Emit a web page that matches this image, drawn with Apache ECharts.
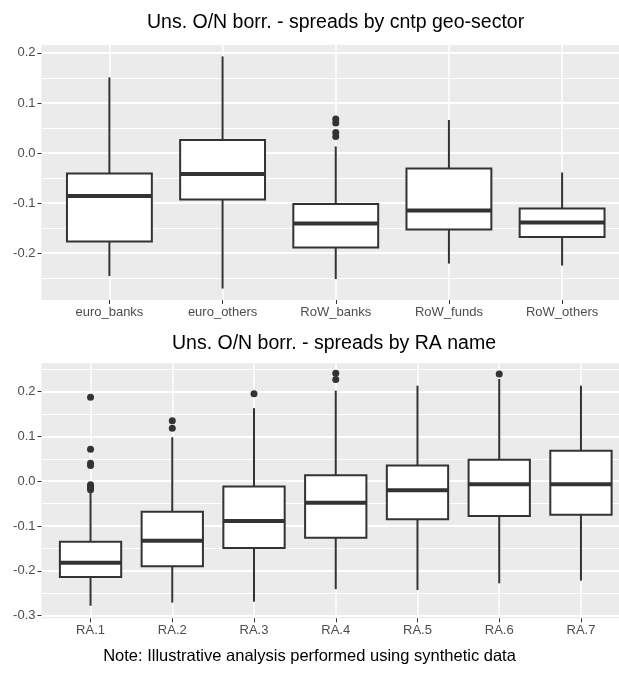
<!DOCTYPE html>
<html>
<head>
<meta charset="utf-8">
<script src="https://cdn.jsdelivr.net/npm/echarts@6/dist/echarts.min.js"></script>
<style>
  html, body { margin: 0; padding: 0; background: #fff; }
  #chart { width: 619px; height: 675px; }
</style>
</head>
<body>
<div id="chart"></div>
<script>
// top panel: spreads by counterparty geo-sector
const geoCats = ['euro_banks', 'euro_others', 'RoW_banks', 'RoW_funds', 'RoW_others'];
const geoLow = [-0.246, -0.271, -0.252, -0.221, -0.225];
const geoQ1 = [-0.177, -0.093, -0.189, -0.153, -0.168];
const geoMed = [-0.086, -0.042, -0.141, -0.115, -0.139];
const geoQ3 = [-0.041, 0.026, -0.102, -0.031, -0.111];
const geoHigh = [0.151, 0.193, 0.013, 0.066, -0.039];
const geoOutliers = [[2, 0.068], [2, 0.060], [2, 0.041], [2, 0.033]];

// bottom panel: spreads by RA name
const raCats = ['RA.1', 'RA.2', 'RA.3', 'RA.4', 'RA.5', 'RA.6', 'RA.7'];
const raLow = [-0.278, -0.271, -0.269, -0.241, -0.243, -0.228, -0.222];
const raQ1 = [-0.214, -0.190, -0.149, -0.126, -0.085, -0.078, -0.075];
const raMed = [-0.182, -0.133, -0.089, -0.048, -0.020, -0.007, -0.007];
const raQ3 = [-0.135, -0.068, -0.012, 0.013, 0.035, 0.048, 0.068];
const raHigh = [-0.024, 0.098, 0.163, 0.202, 0.213, 0.228, 0.213];
const raOutliers = [
  [0, 0.187], [0, 0.071], [0, 0.040], [0, 0.035], [0, -0.008], [0, -0.012], [0, -0.016], [0, -0.019],
  [1, 0.135], [1, 0.118],
  [2, 0.195],
  [3, 0.241], [3, 0.227],
  [5, 0.239]
];

const geoTicks = [-0.2, -0.1, 0, 0.1, 0.2];
const geoMinor = [-0.25, -0.15, -0.05, 0.05, 0.15];
const raTicks = [-0.3, -0.2, -0.1, 0, 0.1, 0.2];
const raMinor = [-0.25, -0.15, -0.05, 0.05, 0.15, 0.25];

const INK = '#333333';
const LABEL = '#4D4D4D';
const PANEL = '#EBEBEB';
const FONT = '"Liberation Sans", Arial, sans-serif';
const BOX_WIDTH = 0.75;

const boxData = (lo, q1, med, q3, hi) => lo.map((v, i) => [i, v, q1[i], med[i], q3[i], hi[i]]);

function renderBox(params, api) {
  const x = api.value(0);
  const pLo = api.coord([x, api.value(1)]);
  const pQ1 = api.coord([x, api.value(2)]);
  const pMed = api.coord([x, api.value(3)]);
  const pQ3 = api.coord([x, api.value(4)]);
  const pHi = api.coord([x, api.value(5)]);
  const half = api.size([BOX_WIDTH, 0])[0] / 2;
  const line = { stroke: INK, lineWidth: 2 };
  return {
    type: 'group',
    children: [
      { type: 'line', shape: { x1: pLo[0], y1: pLo[1], x2: pQ1[0], y2: pQ1[1] }, style: line },
      { type: 'line', shape: { x1: pQ3[0], y1: pQ3[1], x2: pHi[0], y2: pHi[1] }, style: line },
      {
        type: 'rect',
        shape: { x: pQ3[0] - half, y: pQ3[1], width: half * 2, height: pQ1[1] - pQ3[1] },
        style: { fill: '#FFFFFF', stroke: INK, lineWidth: 2 }
      },
      { type: 'line', shape: { x1: pMed[0] - half, y1: pMed[1], x2: pMed[0] + half, y2: pMed[1] }, style: { stroke: INK, lineWidth: 4 } }
    ]
  };
}

const catAxis = (gridIndex, cats) => ({
  type: 'value',
  gridIndex,
  position: 'bottom',
  min: -0.6,
  max: cats.length - 0.4,
  axisLine: { show: false, onZero: false },
  axisTick: { show: true, length: 4, customValues: cats.map((c, i) => i), lineStyle: { color: INK, width: 1 } },
  axisLabel: {
    customValues: cats.map((c, i) => i),
    formatter: v => cats[Math.round(v)] || '',
    color: LABEL, fontFamily: FONT, fontSize: 13, margin: 6
  },
  splitLine: { show: true, lineStyle: { color: '#FFFFFF', width: 1.5 } }
});

const majorAxis = (gridIndex, min, max, ticks) => ({
  type: 'value',
  gridIndex,
  position: 'left',
  min, max,
  axisLine: { show: false, onZero: false },
  axisTick: { show: true, length: 4, customValues: ticks, lineStyle: { color: INK, width: 1 } },
  axisLabel: {
    customValues: ticks,
    formatter: v => v.toFixed(1),
    color: LABEL, fontFamily: FONT, fontSize: 13, margin: 6
  },
  splitLine: { show: true, lineStyle: { color: '#FFFFFF', width: 2 } }
});

const minorAxis = (gridIndex, min, max, ticks) => ({
  type: 'value',
  gridIndex,
  position: 'left',
  min, max,
  axisLine: { show: false, onZero: false },
  axisTick: { show: false, customValues: ticks },
  axisLabel: { show: false },
  splitLine: { show: true, lineStyle: { color: '#FFFFFF', width: 1 } }
});

const chart = echarts.init(document.getElementById('chart'));

chart.setOption({
  backgroundColor: '#FFFFFF',
  animation: false,
  title: [
    { text: 'Uns. O/N borr. - spreads by cntp geo-sector', left: 147, top: 13, padding: 0,
      textStyle: { color: '#000', fontFamily: FONT, fontSize: 19.5, fontWeight: 'normal' } },
    { text: 'Uns. O/N borr. - spreads by RA name', left: 172, top: 334, padding: 0,
      textStyle: { color: '#000', fontFamily: FONT, fontSize: 19.5, fontWeight: 'normal' } },
    { text: 'Note: Illustrative analysis performed using synthetic data', left: 'center', top: 648, padding: 0,
      textStyle: { color: '#000', fontFamily: FONT, fontSize: 16.5, fontWeight: 'normal' } }
  ],
  grid: [
    { left: 41.5, top: 45, width: 588.5, height: 255, show: true, backgroundColor: PANEL, borderWidth: 0, outerBoundsMode: 'none' },
    { left: 41.5, top: 363.3, width: 588.5, height: 255, show: true, backgroundColor: PANEL, borderWidth: 0, outerBoundsMode: 'none' }
  ],
  xAxis: [catAxis(0, geoCats), catAxis(1, raCats)],
  yAxis: [
    majorAxis(0, -0.2938, 0.2158, geoTicks),
    minorAxis(0, -0.2938, 0.2158, geoMinor),
    majorAxis(1, -0.306, 0.263, raTicks),
    minorAxis(1, -0.306, 0.263, raMinor)
  ],
  series: [
    {
      type: 'custom', xAxisIndex: 0, yAxisIndex: 0,
      renderItem: renderBox,
      encode: { x: 0, y: [1, 2, 3, 4, 5] },
      data: boxData(geoLow, geoQ1, geoMed, geoQ3, geoHigh),
      z: 3
    },
    {
      type: 'scatter', xAxisIndex: 0, yAxisIndex: 0,
      symbolSize: 7, itemStyle: { color: INK, opacity: 1 },
      data: geoOutliers, z: 4
    },
    {
      type: 'custom', xAxisIndex: 1, yAxisIndex: 2,
      renderItem: renderBox,
      encode: { x: 0, y: [1, 2, 3, 4, 5] },
      data: boxData(raLow, raQ1, raMed, raQ3, raHigh),
      z: 3
    },
    {
      type: 'scatter', xAxisIndex: 1, yAxisIndex: 2,
      symbolSize: 7, itemStyle: { color: INK, opacity: 1 },
      data: raOutliers, z: 4
    }
  ]
});
</script>
</body>
</html>
